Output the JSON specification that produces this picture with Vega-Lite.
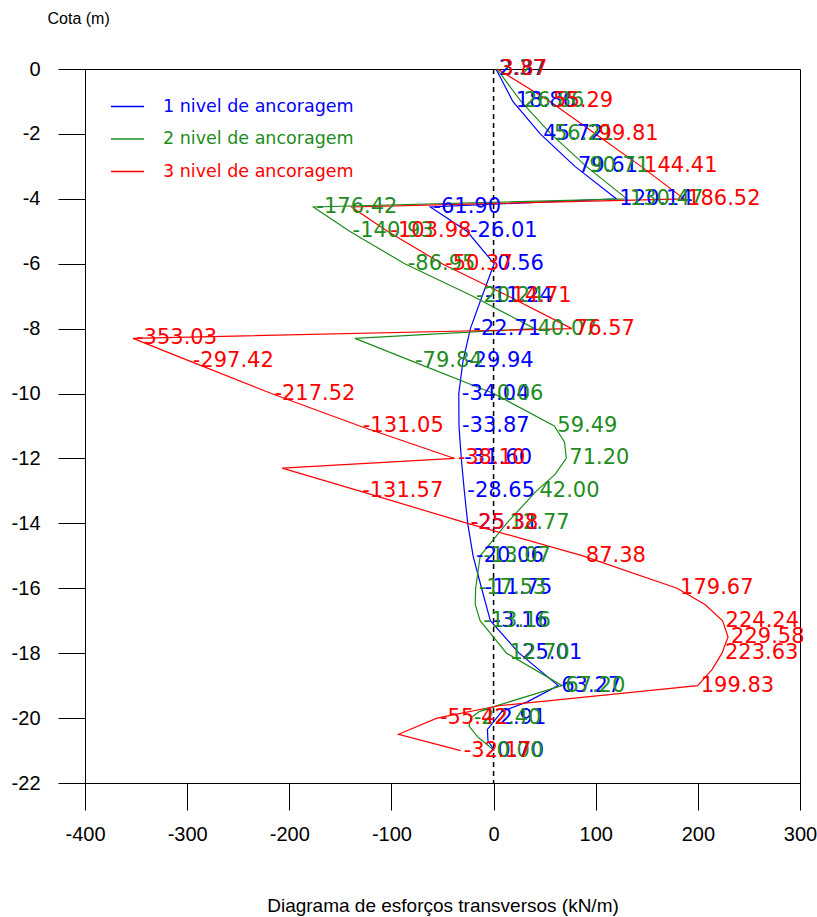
{
  "$schema": "https://vega.github.io/schema/vega-lite/v6.json",
  "width": 715,
  "height": 714,
  "autosize": {"type": "none"},
  "padding": {"left": 85, "top": 69, "right": 17, "bottom": 134},
  "background": "white",
  "config": {"view": {"stroke": "black", "strokeWidth": 1}},
  "datasets": {
    "zero": [{"x": 0, "y": 0, "y2": -22}],
    "series": [
      {"s": "1 nivel de ancoragem", "i": 0, "x": 2.37, "y": 0, "lab": "2.37"},
      {"s": "1 nivel de ancoragem", "i": 1, "x": 18.86, "y": -1, "lab": "18.86"},
      {"s": "1 nivel de ancoragem", "i": 2, "x": 45.72, "y": -2, "lab": "45.72"},
      {"s": "1 nivel de ancoragem", "i": 3, "x": 79.61, "y": -3, "lab": "79.61"},
      {"s": "1 nivel de ancoragem", "i": 4, "x": 120.14, "y": -4, "lab": "120.14"},
      {"s": "1 nivel de ancoragem", "i": 5, "x": -61.90, "y": -4.25, "lab": "-61.90"},
      {"s": "1 nivel de ancoragem", "i": 6, "x": -26.01, "y": -5, "lab": "-26.01"},
      {"s": "1 nivel de ancoragem", "i": 7, "x": 0.56, "y": -6, "lab": "0.56"},
      {"s": "1 nivel de ancoragem", "i": 8, "x": -11.24, "y": -7, "lab": "-11.24"},
      {"s": "1 nivel de ancoragem", "i": 9, "x": -22.71, "y": -8, "lab": "-22.71"},
      {"s": "1 nivel de ancoragem", "i": 10, "x": -29.94, "y": -9, "lab": "-29.94"},
      {"s": "1 nivel de ancoragem", "i": 11, "x": -34.04, "y": -10, "lab": "-34.04"},
      {"s": "1 nivel de ancoragem", "i": 12, "x": -33.87, "y": -11, "lab": "-33.87"},
      {"s": "1 nivel de ancoragem", "i": 13, "x": -31.60, "y": -12, "lab": "-31.60"},
      {"s": "1 nivel de ancoragem", "i": 14, "x": -28.65, "y": -13, "lab": "-28.65"},
      {"s": "1 nivel de ancoragem", "i": 15, "x": -25.31, "y": -14, "lab": "-25.31"},
      {"s": "1 nivel de ancoragem", "i": 16, "x": -20.06, "y": -15, "lab": "-20.06"},
      {"s": "1 nivel de ancoragem", "i": 17, "x": -11.75, "y": -16, "lab": "-11.75"},
      {"s": "1 nivel de ancoragem", "i": 18, "x": -3.16, "y": -17, "lab": "-3.16"},
      {"s": "1 nivel de ancoragem", "i": 19, "x": 25.01, "y": -18, "lab": "25.01"},
      {"s": "1 nivel de ancoragem", "i": 20, "x": 63.27, "y": -19, "lab": "63.27"},
      {"s": "1 nivel de ancoragem", "i": 21, "x": 33, "y": -19.5, "lab": ""},
      {"s": "1 nivel de ancoragem", "i": 22, "x": 8, "y": -19.8, "lab": ""},
      {"s": "1 nivel de ancoragem", "i": 23, "x": 2.91, "y": -20, "lab": "2.91"},
      {"s": "1 nivel de ancoragem", "i": 24, "x": -6, "y": -20.35, "lab": ""},
      {"s": "1 nivel de ancoragem", "i": 25, "x": -5.5, "y": -20.7, "lab": ""},
      {"s": "1 nivel de ancoragem", "i": 26, "x": 0.70, "y": -21, "lab": "0.70"},
      {"s": "2 nivel de ancoragem", "i": 0, "x": 3.27, "y": 0, "lab": "3.27"},
      {"s": "2 nivel de ancoragem", "i": 1, "x": 26.86, "y": -1, "lab": "26.86"},
      {"s": "2 nivel de ancoragem", "i": 2, "x": 56.21, "y": -2, "lab": "56.21"},
      {"s": "2 nivel de ancoragem", "i": 3, "x": 90.71, "y": -3, "lab": "90.71"},
      {"s": "2 nivel de ancoragem", "i": 4, "x": 130.47, "y": -4, "lab": "130.47"},
      {"s": "2 nivel de ancoragem", "i": 5, "x": -176.42, "y": -4.25, "lab": "-176.42"},
      {"s": "2 nivel de ancoragem", "i": 6, "x": -140.93, "y": -5, "lab": "-140.93"},
      {"s": "2 nivel de ancoragem", "i": 7, "x": -86.95, "y": -6, "lab": "-86.95"},
      {"s": "2 nivel de ancoragem", "i": 8, "x": -20.24, "y": -7, "lab": "-20.24"},
      {"s": "2 nivel de ancoragem", "i": 9, "x": 40.07, "y": -8, "lab": "40.07"},
      {"s": "2 nivel de ancoragem", "i": 10, "x": -135.7, "y": -8.3, "lab": ""},
      {"s": "2 nivel de ancoragem", "i": 11, "x": -79.84, "y": -9, "lab": "-79.84"},
      {"s": "2 nivel de ancoragem", "i": 12, "x": 0.06, "y": -10, "lab": "0.06"},
      {"s": "2 nivel de ancoragem", "i": 13, "x": 59.49, "y": -11, "lab": "59.49"},
      {"s": "2 nivel de ancoragem", "i": 14, "x": 69.5, "y": -11.5, "lab": ""},
      {"s": "2 nivel de ancoragem", "i": 15, "x": 71.20, "y": -12, "lab": "71.20"},
      {"s": "2 nivel de ancoragem", "i": 16, "x": 60, "y": -12.5, "lab": ""},
      {"s": "2 nivel de ancoragem", "i": 17, "x": 42.00, "y": -13, "lab": "42.00"},
      {"s": "2 nivel de ancoragem", "i": 18, "x": 12.77, "y": -14, "lab": "12.77"},
      {"s": "2 nivel de ancoragem", "i": 19, "x": -13.07, "y": -15, "lab": "-13.07"},
      {"s": "2 nivel de ancoragem", "i": 20, "x": -17.53, "y": -16, "lab": "-17.53"},
      {"s": "2 nivel de ancoragem", "i": 21, "x": -18, "y": -16.5, "lab": ""},
      {"s": "2 nivel de ancoragem", "i": 22, "x": -13.16, "y": -17, "lab": "-13.16"},
      {"s": "2 nivel de ancoragem", "i": 23, "x": 12.70, "y": -18, "lab": "12.70"},
      {"s": "2 nivel de ancoragem", "i": 24, "x": 67.20, "y": -19, "lab": "67.20"},
      {"s": "2 nivel de ancoragem", "i": 25, "x": 5, "y": -19.6, "lab": ""},
      {"s": "2 nivel de ancoragem", "i": 26, "x": -14, "y": -19.8, "lab": ""},
      {"s": "2 nivel de ancoragem", "i": 27, "x": -22.40, "y": -20, "lab": "-22.40"},
      {"s": "2 nivel de ancoragem", "i": 28, "x": -24, "y": -20.25, "lab": ""},
      {"s": "2 nivel de ancoragem", "i": 29, "x": -15, "y": -20.6, "lab": ""},
      {"s": "2 nivel de ancoragem", "i": 30, "x": -5, "y": -20.85, "lab": ""},
      {"s": "2 nivel de ancoragem", "i": 31, "x": 0.00, "y": -21, "lab": "0.00"},
      {"s": "3 nivel de ancoragem", "i": 0, "x": 3.87, "y": 0, "lab": "3.87"},
      {"s": "3 nivel de ancoragem", "i": 1, "x": 55.29, "y": -1, "lab": "55.29"},
      {"s": "3 nivel de ancoragem", "i": 2, "x": 99.81, "y": -2, "lab": "99.81"},
      {"s": "3 nivel de ancoragem", "i": 3, "x": 144.41, "y": -3, "lab": "144.41"},
      {"s": "3 nivel de ancoragem", "i": 4, "x": 186.52, "y": -4, "lab": "186.52"},
      {"s": "3 nivel de ancoragem", "i": 5, "x": -139, "y": -4.25, "lab": ""},
      {"s": "3 nivel de ancoragem", "i": 6, "x": -103.98, "y": -5, "lab": "-103.98"},
      {"s": "3 nivel de ancoragem", "i": 7, "x": -50.37, "y": -6, "lab": "-50.37"},
      {"s": "3 nivel de ancoragem", "i": 8, "x": 14.71, "y": -7, "lab": "14.71"},
      {"s": "3 nivel de ancoragem", "i": 9, "x": 76.57, "y": -8, "lab": "76.57"},
      {"s": "3 nivel de ancoragem", "i": 10, "x": -353.03, "y": -8.3, "lab": "-353.03"},
      {"s": "3 nivel de ancoragem", "i": 11, "x": -297.42, "y": -9, "lab": "-297.42"},
      {"s": "3 nivel de ancoragem", "i": 12, "x": -217.52, "y": -10, "lab": "-217.52"},
      {"s": "3 nivel de ancoragem", "i": 13, "x": -131.05, "y": -11, "lab": "-131.05"},
      {"s": "3 nivel de ancoragem", "i": 14, "x": -38.10, "y": -12, "lab": "-38.10"},
      {"s": "3 nivel de ancoragem", "i": 15, "x": -207, "y": -12.3, "lab": ""},
      {"s": "3 nivel de ancoragem", "i": 16, "x": -131.57, "y": -13, "lab": "-131.57"},
      {"s": "3 nivel de ancoragem", "i": 17, "x": -25.38, "y": -14, "lab": "-25.38"},
      {"s": "3 nivel de ancoragem", "i": 18, "x": 87.38, "y": -15, "lab": "87.38"},
      {"s": "3 nivel de ancoragem", "i": 19, "x": 179.67, "y": -16, "lab": "179.67"},
      {"s": "3 nivel de ancoragem", "i": 20, "x": 207, "y": -16.5, "lab": ""},
      {"s": "3 nivel de ancoragem", "i": 21, "x": 224.24, "y": -17, "lab": "224.24"},
      {"s": "3 nivel de ancoragem", "i": 22, "x": 229.58, "y": -17.5, "lab": "229.58"},
      {"s": "3 nivel de ancoragem", "i": 23, "x": 223.63, "y": -18, "lab": "223.63"},
      {"s": "3 nivel de ancoragem", "i": 24, "x": 214, "y": -18.5, "lab": ""},
      {"s": "3 nivel de ancoragem", "i": 25, "x": 199.83, "y": -19, "lab": "199.83"},
      {"s": "3 nivel de ancoragem", "i": 26, "x": 5, "y": -19.62, "lab": ""},
      {"s": "3 nivel de ancoragem", "i": 27, "x": -55.42, "y": -20, "lab": "-55.42"},
      {"s": "3 nivel de ancoragem", "i": 28, "x": -93, "y": -20.5, "lab": ""},
      {"s": "3 nivel de ancoragem", "i": 29, "x": -32.17, "y": -21, "lab": "-32.17"}
    ]
  },
  "encoding": {
    "x": {
      "field": "x", "type": "quantitative",
      "scale": {"domain": [-400, 300], "nice": false, "zero": false},
      "axis": {
        "values": [-400, -300, -200, -100, 0, 100, 200, 300],
        "title": "Diagrama de esforços transversos (kN/m)",
        "labelExpr": "'' + datum.value",
        "grid": false, "tickSize": 27, "labelPadding": 14,
        "labelFont": "Liberation Sans", "labelFontSize": 20, "labelColor": "black",
        "labelFlush": false, "labelOverlap": false,
        "tickColor": "black", "domainColor": "black",
        "titleFont": "Liberation Sans", "titleFontSize": 19, "titleFontWeight": "normal", "titleColor": "black",
        "titleY": 122, "titleBaseline": "middle"
      }
    },
    "y": {
      "field": "y", "type": "quantitative",
      "scale": {"domain": [-22, 0], "nice": false, "zero": false},
      "axis": {
        "values": [-22, -20, -18, -16, -14, -12, -10, -8, -6, -4, -2, 0],
        "title": "Cota (m)",
        "labelExpr": "'' + datum.value",
        "grid": false, "tickSize": 27, "labelPadding": 18,
        "labelFont": "Liberation Sans", "labelFontSize": 20, "labelColor": "black",
        "labelFlush": false, "labelOverlap": false,
        "tickColor": "black", "domainColor": "black",
        "titleFont": "Liberation Sans", "titleFontSize": 16, "titleFontWeight": "normal", "titleColor": "black",
        "titleAngle": 0, "titleX": -38, "titleY": -51, "titleAlign": "left", "titleBaseline": "middle"
      }
    }
  },
  "layer": [
    {
      "data": {"name": "zero"},
      "mark": {"type": "rule", "color": "black", "strokeDash": [5, 4], "strokeWidth": 1.5},
      "encoding": {
        "y2": {"field": "y2"}
      }
    },
    {
      "data": {"name": "series"},
      "mark": {"type": "line", "strokeWidth": 1.2},
      "encoding": {
        "color": {
          "field": "s", "type": "nominal",
          "scale": {"domain": ["1 nivel de ancoragem", "2 nivel de ancoragem", "3 nivel de ancoragem"], "range": ["#0000ff", "#1e8c1e", "#ff0000"]},
          "legend": {
            "title": null, "orient": "none", "legendX": 25, "legendY": 20,
            "symbolType": "stroke", "symbolSize": 1100, "symbolStrokeWidth": 1.5,
            "labelFont": "DejaVu Sans", "labelFontSize": 17.5, "labelLimit": 400, "labelOffset": 18,
            "rowPadding": 6.5, "padding": 0,
            "encode": {"labels": {"update": {"fill": {"scale": "color", "field": "value"}}}}
          }
        },
        "order": {"field": "i", "type": "quantitative"}
      }
    },
    {
      "data": {"name": "series"},
      "transform": [{"filter": "datum.lab != ''"}],
      "mark": {"type": "text", "align": "left", "baseline": "middle", "dx": 3, "font": "DejaVu Sans", "fontSize": 21},
      "encoding": {
        "text": {"field": "lab"},
        "color": {"field": "s", "type": "nominal", "legend": null}
      }
    }
  ]
}
